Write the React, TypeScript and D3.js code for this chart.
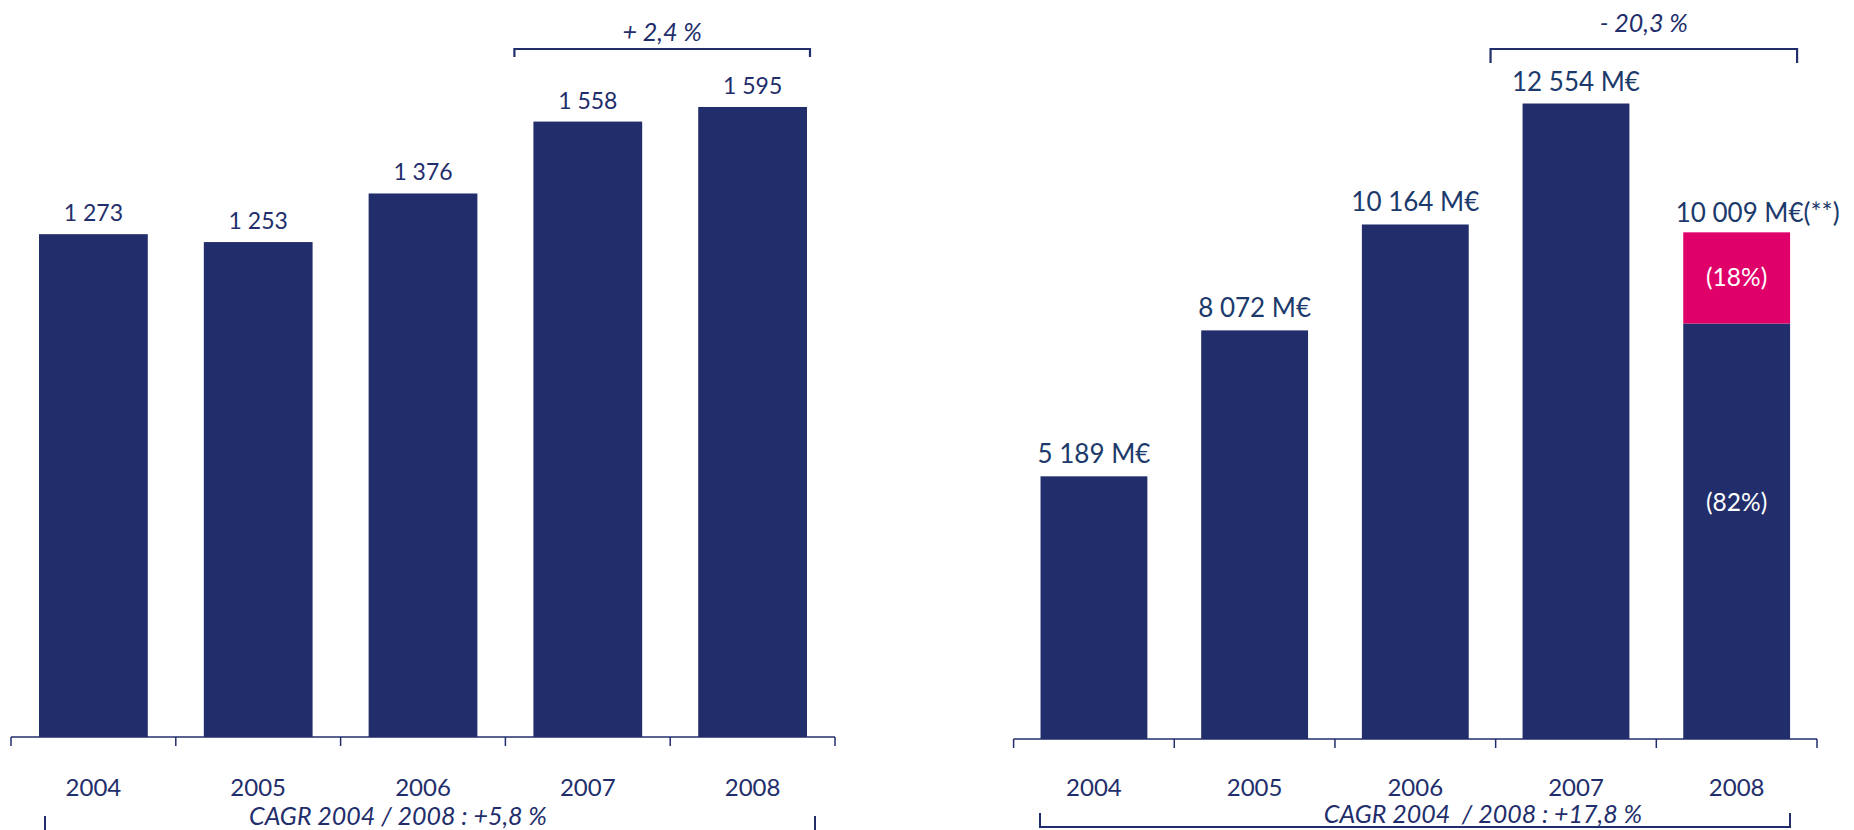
import React from "react";
import * as d3 from "d3";

const years = ["2004", "2005", "2006", "2007", "2008"];

// left panel
const leftValues = [1273, 1253, 1376, 1558, 1595];
const leftLabels = ["1 273", "1 253", "1 376", "1 558", "1 595"];
const leftGrowth = "+ 2,4 %";
const leftCagr = "CAGR 2004 / 2008 : +5,8 %";

// right panel
const rightValues = [5189, 8072, 10164, 12554, 10009];
const rightLabels = ["5 189 M€", "8 072 M€", "10 164 M€", "12 554 M€", "10 009 M€"];
const lastShares = [0.82, 0.18];
const lastShareLabels = ["(82%)", "(18%)"];
const rightGrowth = "- 20,3 %";
const rightCagr = "CAGR 2004  / 2008 : +17,8 %";

const NAVY = "#222E6B";
const PINK = "#E0006A";
const LABEL_BLUE = "#1B3A6B";
const FONT = "Lato, 'Open Sans', sans-serif";

function Axis({x, y0}: {x: d3.ScaleBand<string>, y0: number}) {
    const [a, b] = x.range();
    const ticks = d3.range(years.length + 1).map(i => a + i * x.step());
    return (
        <g>
            <line x1={a} x2={b} y1={y0} y2={y0} stroke={NAVY} strokeWidth={1.5} />
            {ticks.map((t, i) => (
                <line key={i} x1={t} x2={t} y1={y0} y2={y0 + 9} stroke={NAVY} strokeWidth={1.5} />
            ))}
            {years.map(yr => (
                <text key={yr} x={x(yr)! + x.bandwidth() / 2} y={796} textAnchor="middle"
                      fontSize={24} fill={NAVY} fontFamily={FONT}>{yr}</text>
            ))}
        </g>
    );
}

export default function App() {
    // left chart scales
    const xl = d3.scaleBand<string>().domain(years).range([11, 835]).paddingInner(0.34).paddingOuter(0.17);
    const yl = d3.scaleLinear().domain([0, 1600]).range([737, 105]);

    // right chart scales
    const xr = d3.scaleBand<string>().domain(years).range([1013.6, 1817]).paddingInner(0.335).paddingOuter(0.1675);
    const yr = d3.scaleLinear().domain([0, 12554]).range([739, 103.5]);

    const bwl = xl.bandwidth();
    const bwr = xr.bandwidth();

    // stacked split of the last right bar
    const lastYear = years[years.length - 1];
    const lastTotal = rightValues[rightValues.length - 1];
    const stackData = [{base: lastShares[0] * lastTotal, top: lastShares[1] * lastTotal}];
    const series = d3.stack<any>().keys(["base", "top"])(stackData);

    const lBrX0 = xl("2007")! - 19;
    const lBrX1 = xl("2008")! + bwl + 3;
    const rBrX0 = xr("2007")! - 32;
    const rBrX1 = xr("2008")! + bwr + 7;

    return (
        <svg width={1854} height={830} style={{position: "absolute", left: 0, top: 0, background: "#fff"}}>
            {/* left panel */}
            {years.map((yrs, i) => (
                <g key={yrs}>
                    <rect x={xl(yrs)} y={yl(leftValues[i])} width={bwl} height={yl(0) - yl(leftValues[i])} fill={NAVY} />
                    <text x={xl(yrs)! + bwl / 2} y={yl(leftValues[i]) - 13} textAnchor="middle"
                          fontSize={23} fill={NAVY} fontFamily={FONT}>{leftLabels[i]}</text>
                </g>
            ))}
            <Axis x={xl} y0={737} />
            <path d={`M${lBrX0},57V49H${lBrX1}V57`} fill="none" stroke={NAVY} strokeWidth={2.2} />
            <text x={(lBrX0 + lBrX1) / 2} y={41} textAnchor="middle" fontSize={25} fontStyle="italic"
                  fill={NAVY} fontFamily={FONT}>{leftGrowth}</text>
            <text x={398} y={825} textAnchor="middle" fontSize={25} fontStyle="italic"
                  fill={NAVY} fontFamily={FONT}>{leftCagr}</text>
            <path d={`M45,816V840M815,816V840`} fill="none" stroke={NAVY} strokeWidth={2} />

            {/* right panel */}
            {years.map((yrs, i) => (
                yrs === lastYear ? null :
                <rect key={yrs} x={xr(yrs)} y={yr(rightValues[i])} width={bwr}
                      height={yr(0) - yr(rightValues[i])} fill={NAVY} />
            ))}
            {series.map((s, k) => (
                <rect key={k} x={xr(lastYear)} y={yr(s[0][1])} width={bwr}
                      height={yr(s[0][0]) - yr(s[0][1])} fill={k === 0 ? NAVY : PINK} />
            ))}
            <text x={xr(lastYear)! + bwr / 2} y={(yr(series[1][0][0]) + yr(series[1][0][1])) / 2 + 8}
                  textAnchor="middle" fontSize={24.5} fill="#fff" fontFamily={FONT}>{lastShareLabels[1]}</text>
            <text x={xr(lastYear)! + bwr / 2} y={(yr(series[0][0][0]) + yr(series[0][0][1])) / 2 - 20}
                  textAnchor="middle" fontSize={24.5} fill="#fff" fontFamily={FONT}>{lastShareLabels[0]}</text>
            {years.map((yrs, i) => (
                yrs === lastYear ?
                <text key={yrs} x={xr(yrs)! + bwr / 2 - 61} y={yr(rightValues[i]) - 10} textAnchor="start"
                      fontSize={26} fill={LABEL_BLUE} fontFamily={FONT}>{rightLabels[i]}(**)</text> :
                <text key={yrs} x={xr(yrs)! + bwr / 2} y={yr(rightValues[i]) - 13} textAnchor="middle"
                      fontSize={26} fill={LABEL_BLUE} fontFamily={FONT}>{rightLabels[i]}</text>
            ))}
            <Axis x={xr} y0={739} />
            <path d={`M${rBrX0},63V49H${rBrX1}V63`} fill="none" stroke={NAVY} strokeWidth={2.2} />
            <text x={(rBrX0 + rBrX1) / 2} y={32} textAnchor="middle" fontSize={25} fontStyle="italic"
                  fill={NAVY} fontFamily={FONT}>{rightGrowth}</text>
            <text x={1483} y={823} textAnchor="middle" fontSize={25} fontStyle="italic"
                  fill={NAVY} fontFamily={FONT} style={{whiteSpace: "pre"}}>{rightCagr}</text>
            <path d={`M1040,813V827H1790V813`} fill="none" stroke={NAVY} strokeWidth={2} />
        </svg>
    );
}
